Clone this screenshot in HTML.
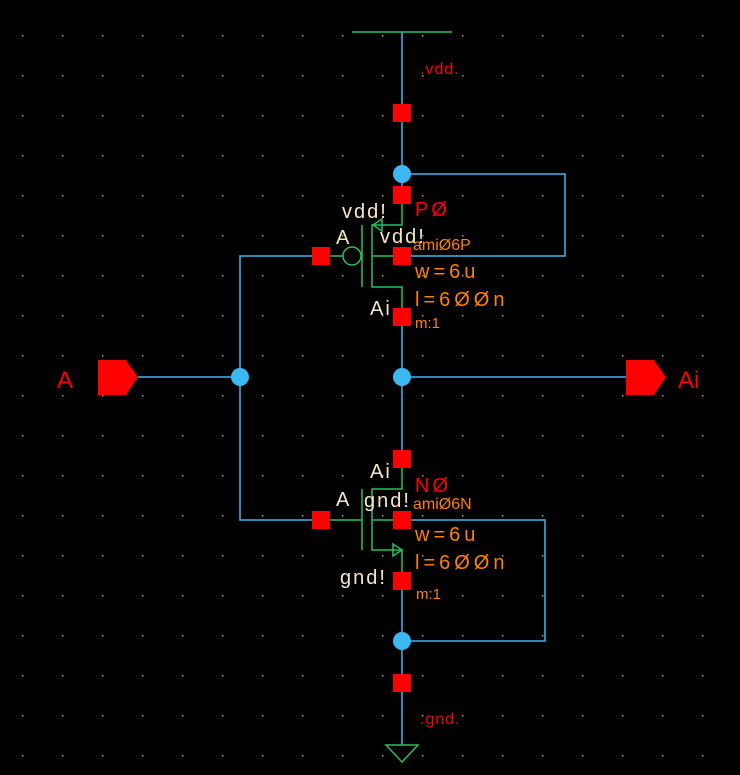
<!DOCTYPE html><html><head><style>body{margin:0;background:#000}</style></head><body>
<svg width="740" height="775" xmlns="http://www.w3.org/2000/svg" style="display:block">
<defs><pattern id="g" x="22" y="35" width="40" height="40" patternUnits="userSpaceOnUse"><rect x="0" y="0" width="1.5" height="1.5" fill="#999"/></pattern></defs>
<rect width="740" height="775" fill="#000"/>
<rect width="740" height="775" fill="url(#g)"/>
<g stroke="#3bb8f0" stroke-width="1.5" fill="none">
<line x1="402" y1="32" x2="402" y2="195"/>
<line x1="402" y1="317" x2="402" y2="459"/>
<line x1="402" y1="581" x2="402" y2="745"/>
<polyline points="402,174 565,174 565,256 402,256"/>
<polyline points="402,520 545,520 545,641 402,641"/>
<polyline points="321,256 240,256 240,520 321,520"/>
<line x1="138" y1="377" x2="240" y2="377"/>
<line x1="402" y1="377" x2="626" y2="377"/>
</g>
<g stroke="#22c060" stroke-width="1.5" fill="none">
<line x1="352" y1="32" x2="452" y2="32"/>
<line x1="330" y1="256" x2="343" y2="256"/>
<circle cx="352" cy="256" r="9"/>
<line x1="362" y1="225" x2="362" y2="287"/>
<polyline points="402,195 402,225 372,225 372,287 402,287 402,317"/>
<line x1="372" y1="256" x2="402" y2="256"/>
<polygon points="373,225 382,219 382,231"/>
<line x1="330" y1="520" x2="362" y2="520"/>
<line x1="362" y1="489" x2="362" y2="550"/>
<polyline points="402,459 402,489 372,489 372,550 402,550 402,581"/>
<line x1="372" y1="520" x2="402" y2="520"/>
<polygon points="402,550 393,544 393,556"/>
<polygon points="386,745 418,745 402,762"/>
</g>
<g fill="#ff0000">
<rect x="393" y="104" width="18" height="18"/><rect x="393" y="186" width="18" height="18"/>
<rect x="393" y="247" width="18" height="18"/><rect x="393" y="308" width="18" height="18"/>
<rect x="393" y="450" width="18" height="18"/><rect x="393" y="511" width="18" height="18"/>
<rect x="393" y="572" width="18" height="18"/><rect x="393" y="674" width="18" height="18"/>
<rect x="312" y="247" width="18" height="18"/><rect x="312" y="511" width="18" height="18"/>
<polygon points="98,360 126,360 138,377 126,395 98,395"/>
<polygon points="626,360 654,360 666,377 654,395 626,395"/>
</g>
<g fill="#3bb8f0">
<circle cx="402" cy="174" r="9"/><circle cx="240" cy="377" r="9"/>
<circle cx="402" cy="377" r="9"/><circle cx="402" cy="641" r="9"/>
</g>
<g font-family="Liberation Sans, sans-serif">
<g fill="#f5e6c8" font-size="20" letter-spacing="2">
<text x="342" y="218">vdd!</text><text x="336" y="244">A</text><text x="380" y="243">vdd!</text>
<text x="370" y="315">Ai</text><text x="370" y="478">Ai</text><text x="336" y="506">A</text>
<text x="364" y="507">gnd!</text><text x="340" y="584">gnd!</text>
</g>
<g fill="#ff0000"><text x="415" y="216" font-size="20" letter-spacing="3">PØ</text><text x="415" y="492" font-size="20" letter-spacing="3">NØ</text>
<text x="420" y="74" font-size="16" letter-spacing="1">.vdd.</text><text x="420" y="724" font-size="16" letter-spacing="1">.gnd.</text>
<text x="57" y="388" font-size="24">A</text><text x="678" y="388" font-size="24">Ai</text></g>
<g fill="#ff8000"><text x="413" y="250" font-size="16">amiØ6P</text><text x="415" y="278" font-size="20" letter-spacing="4">w=6u</text>
<text x="415" y="306" font-size="20" letter-spacing="4">l=6ØØn</text><text x="415" y="328" font-size="15">m:1</text>
<text x="413" y="509" font-size="16">amiØ6N</text><text x="415" y="541" font-size="20" letter-spacing="4">w=6u</text>
<text x="415" y="569" font-size="20" letter-spacing="4">l=6ØØn</text><text x="416" y="599" font-size="15">m:1</text></g>
</g>
</svg></body></html>
